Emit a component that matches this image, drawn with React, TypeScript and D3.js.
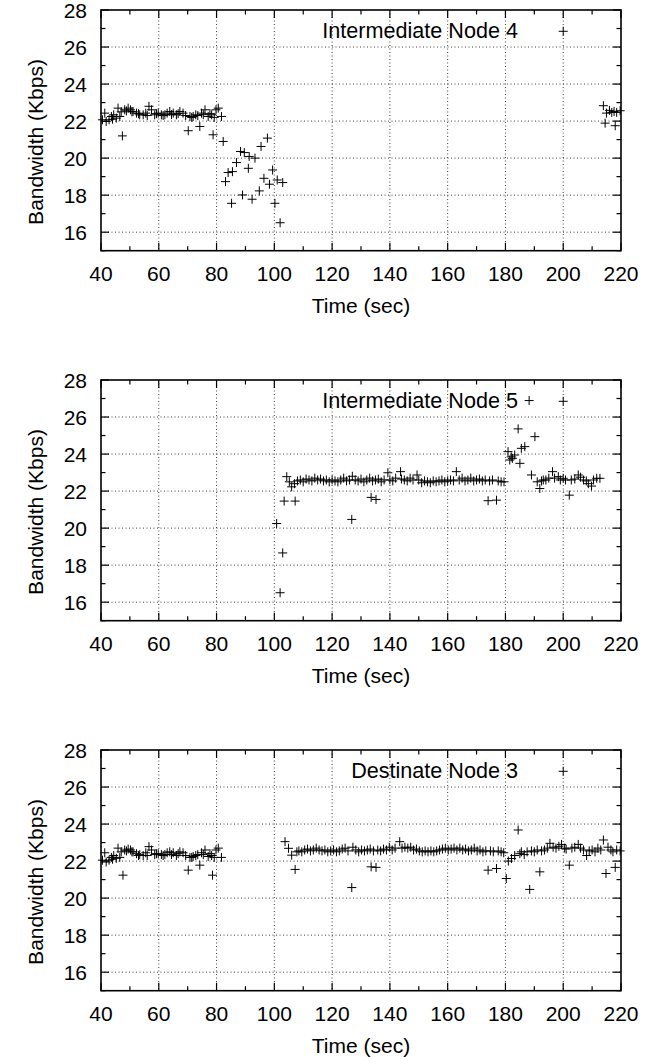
import React from "react";
import * as d3 from "d3";

type Pt = [number, number];

// Intermediate Node 4
const node4Data: Pt[] = [
  [40.5, 22.07], [41.3, 22.43], [41.8, 21.98], [42.8, 22.07], [43.6, 22.25], [44.0, 22.1],
  [44.4, 22.34], [45.3, 22.16], [45.9, 22.7], [46.5, 22.25], [47.0, 22.5], [47.4, 21.2],
  [48.2, 22.61], [48.8, 22.55], [49.4, 22.7], [50.2, 22.61], [50.7, 22.5], [51.1, 22.52],
  [52.3, 22.43], [53.0, 22.4], [53.4, 22.34], [54.6, 22.34], [55.5, 22.43], [56.0, 22.3],
  [56.6, 22.8], [57.5, 22.61], [58.6, 22.34], [59.2, 22.4], [59.8, 22.43], [60.9, 22.34],
  [61.5, 22.3], [62.1, 22.34], [62.9, 22.43], [63.8, 22.52], [64.4, 22.35], [65.0, 22.43],
  [66.1, 22.34], [66.7, 22.4], [67.3, 22.52], [68.4, 22.43], [69.3, 22.3], [70.2, 21.48],
  [70.8, 22.25], [71.4, 22.2], [71.9, 22.25], [72.8, 22.34], [73.5, 22.3], [74.2, 21.71],
  [74.8, 22.43], [75.4, 22.35], [76.0, 22.61], [77.1, 22.25], [77.7, 22.4], [78.3, 22.34],
  [78.8, 21.26], [79.2, 22.2], [79.8, 22.61], [80.6, 22.7], [81.7, 22.25],
  [82.3, 20.9], [83.1, 18.73], [84.0, 19.22], [85.2, 17.56], [85.5, 19.27], [86.9, 19.76],
  [88.3, 20.36], [89.0, 18.01], [89.6, 20.3], [91.0, 19.45], [91.3, 20.09], [92.3, 17.78],
  [93.3, 20.0], [94.8, 18.23], [95.4, 20.63], [96.4, 18.91], [97.6, 21.08], [98.3, 18.59],
  [99.4, 19.36], [100.2, 17.56], [101.0, 18.82], [102.0, 16.51], [102.9, 18.68],
  [213.9, 22.83], [214.5, 21.89], [215.0, 22.43], [216.0, 22.58], [216.8, 22.47],
  [217.6, 22.52], [218.0, 21.75], [218.5, 22.47], [219.7, 22.56],
];

// Intermediate Node 5
const node5Data: Pt[] = [
  [100.8, 20.25], [102.0, 16.51], [102.9, 18.66], [103.4, 21.46], [104.3, 22.78], [105.2, 22.5],
  [106.0, 22.23], [107.0, 22.4], [107.2, 21.46], [108, 22.55], [109, 22.6], [110, 22.5],
  [111, 22.65], [112, 22.6], [113, 22.55], [114, 22.7], [115, 22.6], [116, 22.65], [117, 22.55],
  [118, 22.6], [119, 22.5], [120, 22.6], [121, 22.55], [122, 22.5], [123, 22.6], [124, 22.7],
  [125, 22.55], [126, 22.6], [126.8, 20.47], [127, 22.8], [128, 22.6], [129, 22.55], [130, 22.65],
  [131, 22.5], [132, 22.6], [133, 22.7], [133.5, 21.66], [134, 22.55], [135, 22.6], [135.2, 21.55],
  [136, 22.65], [137, 22.5], [138, 22.6], [139.3, 22.99], [140, 22.6], [141, 22.55], [142, 22.7],
  [143.7, 23.05], [144, 22.65], [145, 22.6], [146, 22.55], [147, 22.7], [148, 22.6], [149.4, 22.87],
  [150, 22.6], [151, 22.45], [152, 22.55], [153, 22.5], [154, 22.45], [155, 22.55], [156, 22.5],
  [157, 22.55], [158, 22.6], [159, 22.5], [160, 22.55], [161, 22.6], [162, 22.55], [163, 23.05],
  [164, 22.6], [165, 22.7], [166, 22.55], [167, 22.6], [168, 22.7], [169, 22.55], [170, 22.6],
  [171, 22.65], [172, 22.55], [173, 22.6], [174, 21.48], [174.5, 22.55], [175.5, 22.6],
  [176.9, 21.51], [177.5, 22.55], [178.5, 22.5], [179.5, 22.5],
  [180.9, 24.13], [181.5, 23.68], [182.0, 23.85], [182.4, 23.77], [183.2, 23.95], [184.4, 25.36],
  [185.0, 23.5], [185.5, 24.31], [186.7, 24.4], [188.2, 26.89], [189.0, 22.87], [190.2, 24.94],
  [191.0, 22.5], [191.9, 22.14], [192.5, 22.55], [193.1, 22.6], [194.0, 22.6], [195.0, 22.7],
  [196.3, 23.05], [197.0, 22.7], [198.3, 22.78], [199.0, 22.6], [200.0, 22.69], [200.8, 22.6],
  [202.1, 21.78], [202.8, 22.6], [204.0, 22.65], [205.2, 22.87], [206.0, 22.75], [207.0, 22.6],
  [208.0, 22.55], [208.7, 22.4], [209.8, 22.27], [210.5, 22.6], [211.6, 22.69], [212.7, 22.69],
];

// Destinate Node 3
const node3Data: Pt[] = [
  [40.5, 22.05], [41.3, 22.45], [41.8, 21.95], [42.8, 22.05], [43.6, 22.2], [44.0, 22.1],
  [44.4, 22.3], [45.3, 22.15], [45.9, 22.7], [46.5, 22.2], [47.0, 22.5], [47.6, 21.24],
  [48.2, 22.6], [48.8, 22.55], [49.4, 22.65], [50.2, 22.6], [50.7, 22.5], [51.1, 22.5],
  [52.3, 22.4], [53.0, 22.3], [53.4, 22.35], [54.6, 22.3], [55.5, 22.45], [56.0, 22.3],
  [56.6, 22.78], [57.5, 22.6], [58.6, 22.35], [59.2, 22.4], [59.8, 22.4], [60.9, 22.35],
  [61.5, 22.3], [62.1, 22.35], [62.9, 22.45], [63.8, 22.5], [64.4, 22.35], [65.0, 22.45],
  [66.1, 22.3], [66.7, 22.4], [67.3, 22.5], [68.4, 22.45], [69.3, 22.3], [70.2, 21.51],
  [70.8, 22.2], [71.4, 22.2], [71.9, 22.25], [72.8, 22.3], [73.5, 22.35], [74.2, 21.78],
  [74.8, 22.45], [75.4, 22.35], [76.0, 22.6], [77.1, 22.25], [77.7, 22.4], [78.3, 22.3],
  [78.6, 21.24], [79.2, 22.2], [79.8, 22.6], [80.6, 22.7], [81.7, 22.2],
  [103.7, 23.05], [104.9, 22.69], [106.0, 22.32], [107.2, 21.55], [107.8, 22.5], [108.5, 22.55],
  [109.5, 22.5], [110.5, 22.6], [111.5, 22.65], [112.5, 22.55], [113.5, 22.6], [114.5, 22.7],
  [115.5, 22.6], [116.5, 22.55], [117.5, 22.6], [118.5, 22.5], [119.5, 22.55], [120.5, 22.6],
  [121.5, 22.5], [122.5, 22.55], [123.5, 22.65], [124.5, 22.7], [125.5, 22.55], [126.8, 20.57],
  [127.2, 22.75], [128.2, 22.6], [129.2, 22.5], [130.2, 22.6], [131.2, 22.55], [132.2, 22.6],
  [133.2, 22.65], [133.5, 21.69], [134.3, 22.55], [135.2, 21.66], [135.8, 22.6], [136.8, 22.55],
  [137.8, 22.65], [138.8, 22.6], [139.8, 22.75], [140.8, 22.6], [141.8, 22.7], [143.4, 23.05],
  [144.2, 22.7], [145.2, 22.75], [146.2, 22.7], [147.2, 22.75], [148.2, 22.6], [149.2, 22.65],
  [150.2, 22.55], [151.2, 22.5], [152.2, 22.55], [153.2, 22.5], [154.2, 22.55], [155.2, 22.5],
  [156.2, 22.55], [157.2, 22.6], [158.2, 22.65], [159.2, 22.7], [160.2, 22.6], [161.2, 22.65],
  [162.2, 22.7], [163.2, 22.6], [164.2, 22.7], [165.2, 22.6], [166.2, 22.65], [167.2, 22.55],
  [168.2, 22.6], [169.2, 22.7], [170.2, 22.55], [171.2, 22.6], [172.2, 22.5], [173.2, 22.55],
  [174.0, 21.51], [174.8, 22.55], [175.8, 22.5], [176.9, 21.6], [177.5, 22.55], [178.5, 22.5],
  [179.4, 22.45], [180.3, 21.06], [181.0, 22.0], [182.1, 22.14], [183.2, 22.3], [184.4, 23.68],
  [185.0, 22.4], [185.5, 22.5], [186.5, 22.35], [187.5, 22.5], [188.4, 20.47], [189.0, 22.55],
  [190.0, 22.5], [191.0, 22.6], [191.9, 21.42], [192.5, 22.55], [193.5, 22.6], [194.5, 22.7],
  [195.4, 22.96], [196.5, 22.75], [197.5, 22.7], [198.5, 22.8], [199.4, 22.9], [200.5, 22.7],
  [201.0, 22.65], [202.1, 21.78], [203.0, 22.7], [204.0, 22.75], [205.2, 22.9], [206.0, 22.7],
  [207.0, 22.6], [208.1, 22.3], [209.0, 22.55], [210.0, 22.6], [211.0, 22.5], [212.0, 22.7],
  [213.0, 22.6], [213.9, 23.14], [214.8, 21.33], [215.5, 22.75], [216.5, 22.6], [217.2, 22.5],
  [218.0, 21.66], [218.5, 22.6], [219.7, 22.55],
];

const panelTitles = ["Intermediate Node 4", "Intermediate Node 5", "Destinate Node 3"];
const panelData = [node4Data, node5Data, node3Data];
const xMajor = [40, 60, 80, 100, 120, 140, 160, 180, 200, 220];
const xMinor = [50, 70, 90, 110, 130, 150, 170, 190, 210];
const yMajor = [16, 18, 20, 22, 24, 26, 28];
const yMinor = [15, 17, 19, 21, 23, 25, 27];
const legendSample: Pt = [200, 26.85];

const PLOT_LEFT = 101;
const PLOT_RIGHT = 621;
const PLOT_H = 240.7;
const PANEL_TOPS = [10, 380, 750];
const FONT = "'Liberation Sans', Arial, Helvetica, sans-serif";

const Cross = ({ x, y }: { x: number; y: number }) => (
  <path d={`M${x - 4.5},${y}H${x + 4.5}M${x},${y - 4.5}V${y + 4.5}`} stroke="#000" strokeWidth={1} />
);

const Panel = ({ top, data, title }: { top: number; data: Pt[]; title: string }) => {
  const bottom = top + PLOT_H;
  const x = d3.scaleLinear().domain([40, 220]).range([PLOT_LEFT, PLOT_RIGHT]);
  const y = d3.scaleLinear().domain([15, 28]).range([bottom, top]);

  return (
    <g fontFamily={FONT} fontSize={21} fill="#000">
      {/* grid */}
      {xMajor.slice(1, -1).map((t) => (
        <line key={"gx" + t} x1={x(t)} x2={x(t)} y1={top} y2={bottom} stroke="#000" strokeWidth={1} strokeDasharray="1,2.5" opacity={0.75} />
      ))}
      {yMajor.slice(0, -1).map((v) => (
        <line key={"gy" + v} x1={PLOT_LEFT} x2={PLOT_RIGHT} y1={y(v)} y2={y(v)} stroke="#000" strokeWidth={1} strokeDasharray="1,2.5" opacity={0.75} />
      ))}
      {/* ticks, all inward */}
      {xMajor.map((t) => (
        <g key={"tx" + t}>
          <line x1={x(t)} x2={x(t)} y1={bottom} y2={bottom - 8} stroke="#000" strokeWidth={1.2} />
          <line x1={x(t)} x2={x(t)} y1={top} y2={top + 8} stroke="#000" strokeWidth={1.2} />
          <text x={x(t)} y={bottom + 30} textAnchor="middle">{t}</text>
        </g>
      ))}
      {xMinor.map((t) => (
        <g key={"mx" + t}>
          <line x1={x(t)} x2={x(t)} y1={bottom} y2={bottom - 4.5} stroke="#000" strokeWidth={1.2} />
          <line x1={x(t)} x2={x(t)} y1={top} y2={top + 4.5} stroke="#000" strokeWidth={1.2} />
        </g>
      ))}
      {yMajor.map((v) => (
        <g key={"ty" + v}>
          <line x1={PLOT_LEFT} x2={PLOT_LEFT + 8} y1={y(v)} y2={y(v)} stroke="#000" strokeWidth={1.2} />
          <line x1={PLOT_RIGHT} x2={PLOT_RIGHT - 8} y1={y(v)} y2={y(v)} stroke="#000" strokeWidth={1.2} />
          <text x={87} y={y(v)} dy="0.36em" textAnchor="end">{v}</text>
        </g>
      ))}
      {yMinor.map((v) => (
        <g key={"my" + v}>
          <line x1={PLOT_LEFT} x2={PLOT_LEFT + 4.5} y1={y(v)} y2={y(v)} stroke="#000" strokeWidth={1.2} />
          <line x1={PLOT_RIGHT} x2={PLOT_RIGHT - 4.5} y1={y(v)} y2={y(v)} stroke="#000" strokeWidth={1.2} />
        </g>
      ))}
      {/* frame */}
      <rect x={PLOT_LEFT} y={top} width={PLOT_RIGHT - PLOT_LEFT} height={PLOT_H} fill="none" stroke="#000" strokeWidth={1.6} />
      {/* points */}
      {data.map(([t, v], i) => (
        <Cross key={i} x={x(t)} y={y(v)} />
      ))}
      {/* legend */}
      <text x={518} y={top + 28} textAnchor="end" fontSize={21.6}>{title}</text>
      <Cross x={x(legendSample[0])} y={y(legendSample[1])} />
      {/* axis titles */}
      <text x={(PLOT_LEFT + PLOT_RIGHT) / 2} y={bottom + 62} textAnchor="middle">Time (sec)</text>
      <text transform={`translate(43,${top + 132}) rotate(-90)`} textAnchor="middle">Bandwidth (Kbps)</text>
    </g>
  );
};

export default function App() {
  return (
    <svg width={658} height={1057} style={{ position: "absolute", left: 0, top: 0, background: "#fff" }}>
      <rect width={658} height={1057} fill="#fff" />
      {PANEL_TOPS.map((top, i) => (
        <Panel key={i} top={top} data={panelData[i]} title={panelTitles[i]} />
      ))}
    </svg>
  );
}
